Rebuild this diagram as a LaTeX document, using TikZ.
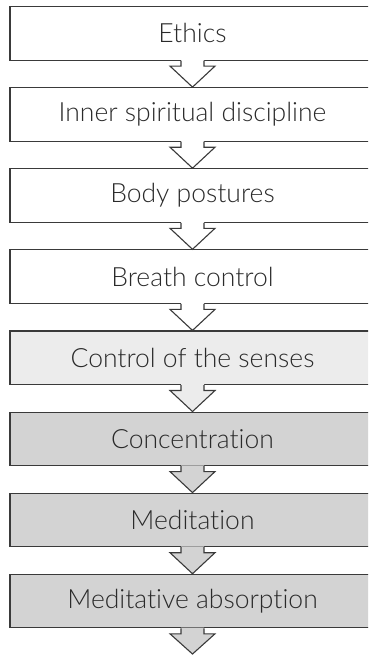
\documentclass[tikz,border=0pt]{standalone}
\usepackage{fontspec}
\setmainfont{Lato Light}[Ligatures={NoCommon}]
\usetikzlibrary{calc}
\definecolor{lightbox}{HTML}{ECECEC}
\definecolor{graybox}{HTML}{D3D3D3}
\definecolor{edge}{HTML}{3A3A3A}
\definecolor{txt}{HTML}{2A2A2A}
\tikzset{
  stagebox/.style={draw=edge, line width=1.1pt, minimum width=365pt, minimum height=53.5pt,
    inner sep=0pt, font=\fontsize{26.5}{30}\selectfont, text=txt, anchor=north},
  blockarrow/.style={draw=edge, line width=1.1pt, line join=miter}
}
\newcommand{\stagearrow}[3]{%
  \fill[#3] ($(#1.south)+(-11.5,-0.8)$) -- ($(#1.south)+(-11.5,5.5)$) -- ($(#1.south)+(-22.5,5.5)$)
     -- (#2) -- ($(#1.south)+(22.5,5.5)$) -- ($(#1.south)+(11.5,5.5)$) -- ($(#1.south)+(11.5,-0.8)$) -- cycle;
  \draw[blockarrow] ($(#1.south)+(-11.5,0)$) -- ($(#1.south)+(-11.5,5.5)$) -- ($(#1.south)+(-22.5,5.5)$)
     -- (#2) -- ($(#1.south)+(22.5,5.5)$) -- ($(#1.south)+(11.5,5.5)$) -- ($(#1.south)+(11.5,0)$);
}
\begin{document}
\begin{tikzpicture}[x=1pt,y=-1pt]
\useasboundingbox (0,0) rectangle (368,656);
\clip (0,0) rectangle (368,656);
\fill[white] (0,0) rectangle (368,656);
\node[stagebox, fill=white] (b1) at (192.5,6) {Ethics};
\node[stagebox, fill=white] (b2) at (192.5,87.1) {Inner spiritual discipline};
\node[stagebox, fill=white] (b3) at (192.5,168.2) {Body postures};
\node[stagebox, fill=white] (b4) at (192.5,249.3) {Breath control};
\node[stagebox, fill=lightbox] (b5) at (192.5,330.4) {Control of the senses};
\node[stagebox, fill=graybox] (b6) at (192.5,411.5) {Concentration};
\node[stagebox, fill=graybox] (b7) at (192.5,492.6) {Meditation};
\node[stagebox, fill=graybox] (b8) at (192.5,573.7) {Meditative absorption};
\coordinate (end) at (192.5,654);
\stagearrow{b1}{b2.north}{white}
\stagearrow{b2}{b3.north}{white}
\stagearrow{b3}{b4.north}{white}
\stagearrow{b4}{b5.north}{white}
\stagearrow{b5}{b6.north}{lightbox}
\stagearrow{b6}{b7.north}{graybox}
\stagearrow{b7}{b8.north}{graybox}
\stagearrow{b8}{end}{graybox}
\end{tikzpicture}
\end{document}
